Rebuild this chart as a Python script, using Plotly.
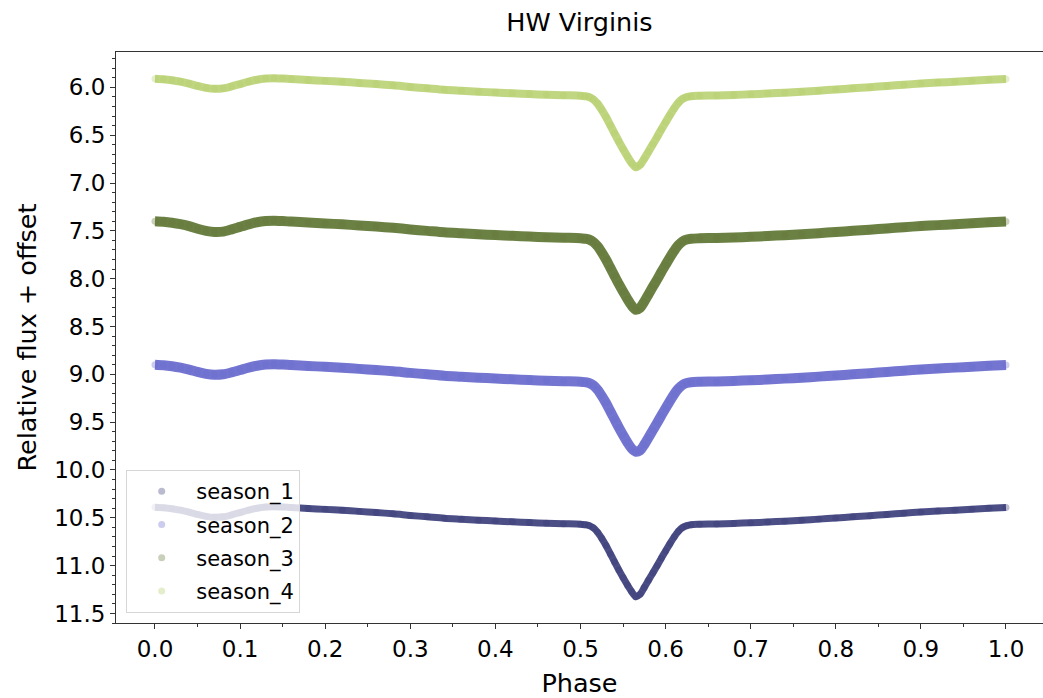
import plotly.graph_objects as go

# Phase grid (shared by all seasons)
PHASE = [0.00, 0.01, 0.02, 0.03, 0.04, 0.05, 0.06, 0.07, 0.08, 0.09, 0.10, 0.11, 0.12, 0.13, 0.14, 0.15, 0.16,
         0.18, 0.20, 0.22, 0.24, 0.26, 0.28, 0.30, 0.32, 0.34, 0.36, 0.38, 0.40, 0.42, 0.44, 0.46, 0.48, 0.50,
         0.505, 0.51, 0.515, 0.52, 0.525, 0.53, 0.535, 0.54, 0.545, 0.55, 0.555, 0.56, 0.565, 0.57, 0.575,
         0.58, 0.585, 0.59, 0.595, 0.60, 0.605, 0.61, 0.615, 0.62, 0.625,
         0.63, 0.64,
         0.66, 0.68, 0.70, 0.72, 0.74, 0.76, 0.78, 0.80, 0.82, 0.84, 0.86, 0.88, 0.90, 0.92, 0.94, 0.96, 0.98, 1.00]

SEASON_1 = [10.390, 10.395, 10.405, 10.420, 10.440, 10.465, 10.485, 10.495, 10.490, 10.470, 10.445, 10.420, 10.400, 10.388, 10.385, 10.388, 10.393,
            10.402, 10.412, 10.422, 10.433, 10.445, 10.458, 10.475, 10.490, 10.505, 10.515, 10.525, 10.534, 10.542, 10.550, 10.557, 10.562, 10.567,
            10.572, 10.580, 10.605, 10.650, 10.715, 10.790, 10.875, 10.960, 11.045, 11.125, 11.200, 11.270, 11.325, 11.300, 11.228,
            11.152, 11.077, 11.002, 10.922, 10.847, 10.772, 10.702, 10.642, 10.602, 10.582,
            10.572, 10.568,
            10.564, 10.559, 10.552, 10.544, 10.535, 10.525, 10.514, 10.502, 10.490, 10.478, 10.465, 10.452, 10.440, 10.430, 10.420, 10.410, 10.400, 10.392]

SEASON_2 = [8.900, 8.905, 8.915, 8.930, 8.950, 8.975, 8.995, 9.005, 9.000, 8.980, 8.955, 8.930, 8.910, 8.898, 8.895, 8.898, 8.903,
            8.912, 8.922, 8.932, 8.943, 8.955, 8.968, 8.985, 9.000, 9.015, 9.025, 9.035, 9.044, 9.052, 9.060, 9.067, 9.072, 9.077,
            9.082, 9.090, 9.115, 9.160, 9.225, 9.300, 9.385, 9.470, 9.555, 9.635, 9.710, 9.775, 9.810, 9.795, 9.735,
            9.660, 9.585, 9.510, 9.430, 9.355, 9.280, 9.210, 9.150, 9.110, 9.090,
            9.082, 9.078,
            9.074, 9.069, 9.062, 9.054, 9.045, 9.035, 9.024, 9.012, 9.000, 8.988, 8.975, 8.962, 8.950, 8.940, 8.930, 8.920, 8.910, 8.902]

SEASON_3 = [7.400, 7.405, 7.415, 7.430, 7.450, 7.478, 7.500, 7.512, 7.508, 7.485, 7.458, 7.432, 7.410, 7.398, 7.395, 7.398, 7.403,
            7.412, 7.422, 7.432, 7.443, 7.455, 7.468, 7.485, 7.500, 7.515, 7.525, 7.535, 7.544, 7.552, 7.560, 7.567, 7.572, 7.577,
            7.582, 7.590, 7.615, 7.660, 7.725, 7.800, 7.885, 7.970, 8.055, 8.135, 8.210, 8.280, 8.325, 8.305, 8.240,
            8.162, 8.085, 8.010, 7.930, 7.855, 7.780, 7.710, 7.650, 7.610, 7.590,
            7.582, 7.578,
            7.574, 7.569, 7.562, 7.554, 7.545, 7.535, 7.524, 7.512, 7.500, 7.488, 7.475, 7.462, 7.450, 7.440, 7.430, 7.420, 7.410, 7.402]

SEASON_4 = [5.910, 5.915, 5.925, 5.940, 5.960, 5.985, 6.005, 6.015, 6.010, 5.990, 5.965, 5.940, 5.920, 5.908, 5.905, 5.908, 5.913,
            5.922, 5.932, 5.942, 5.953, 5.965, 5.978, 5.995, 6.010, 6.025, 6.035, 6.045, 6.054, 6.062, 6.070, 6.077, 6.082, 6.087,
            6.092, 6.100, 6.125, 6.170, 6.235, 6.310, 6.395, 6.480, 6.565, 6.645, 6.720, 6.790, 6.835, 6.810, 6.745,
            6.670, 6.595, 6.520, 6.440, 6.365, 6.290, 6.220, 6.160, 6.120, 6.100,
            6.092, 6.088,
            6.084, 6.079, 6.072, 6.064, 6.055, 6.045, 6.034, 6.022, 6.010, 5.998, 5.985, 5.972, 5.960, 5.950, 5.940, 5.930, 5.920, 5.912]

NAMES = ["season_1", "season_2", "season_3", "season_4"]
SERIES = [SEASON_1, SEASON_2, SEASON_3, SEASON_4]
RGB = [(57, 59, 121), (107, 110, 207), (99, 121, 57), (181, 207, 107)]
BAND_ALPHA = [0.9, 0.95, 0.95, 0.85]
BAND_WIDTH = [7, 10, 10, 8]

XTICKS = [0.0, 0.1, 0.2, 0.3, 0.4, 0.5, 0.6, 0.7, 0.8, 0.9, 1.0]

FONT = "DejaVu Sans"
fig = go.Figure()

for name, vals, (r, g, b), a, w in zip(NAMES, SERIES, RGB, BAND_ALPHA, BAND_WIDTH):
    fig.add_trace(go.Scatter(
        x=PHASE, y=vals, mode="lines", showlegend=False, legendgroup=name,
        line=dict(color=f"rgba({r},{g},{b},{a})", width=w, shape="spline", smoothing=0.8,
                  simplify=False),
        hoverinfo="skip"))
    fig.add_trace(go.Scatter(
        x=PHASE, y=vals, mode="markers", name=name, legendgroup=name,
        marker=dict(color=f"rgba({r},{g},{b},0.35)", size=7, line=dict(width=0))))

axis_col = "#333333"
fig.update_xaxes(
    range=[-0.0458, 1.0435], tickvals=XTICKS, ticktext=[f"{t:.1f}" for t in XTICKS],
    ticks="outside", ticklen=5, tickwidth=1, tickcolor=axis_col,
    showline=True, linecolor=axis_col, linewidth=1, mirror=True,
    showgrid=False, zeroline=False,
    minor=dict(tick0=0, dtick=0.05, ticks="outside", ticklen=3, tickcolor=axis_col),
    tickfont=dict(family=FONT, size=23, color="black"),
    title=dict(text="Phase", font=dict(family=FONT, size=25.5, color="black"), standoff=20),
)
fig.update_yaxes(
    range=[11.60, 5.63], tick0=6.0, dtick=0.5, tickformat=".1f",
    ticks="outside", ticklen=5, tickwidth=1, tickcolor=axis_col,
    showline=True, linecolor=axis_col, linewidth=1,
    showgrid=False, zeroline=False,
    minor=dict(tick0=6.0, dtick=0.1, ticks="outside", ticklen=3, tickcolor=axis_col),
    tickfont=dict(family=FONT, size=23, color="black"),
    title=dict(text="Relative flux + offset", font=dict(family=FONT, size=25.5, color="black"), standoff=10),
)

fig.update_layout(
    width=1043, height=698,
    margin=dict(l=116, r=0, t=52, b=75, autoexpand=False),
    plot_bgcolor="white", paper_bgcolor="white",
    title=dict(text="HW Virginis", x=(116 + 1043) / 2 / 1043, xanchor="center",
               y=1 - 22 / 698, yanchor="middle", yref="container",
               font=dict(family=FONT, size=25.5, color="black")),
    legend=dict(x=0.011, y=0.0175, xanchor="left", yanchor="bottom",
                bgcolor="rgba(255,255,255,0.8)", bordercolor="#d6d6d6", borderwidth=1,
                font=dict(family=FONT, size=21, color="black"), itemwidth=59,
                tracegroupgap=3),
    showlegend=True,
)

fig.write_html("out.html")
